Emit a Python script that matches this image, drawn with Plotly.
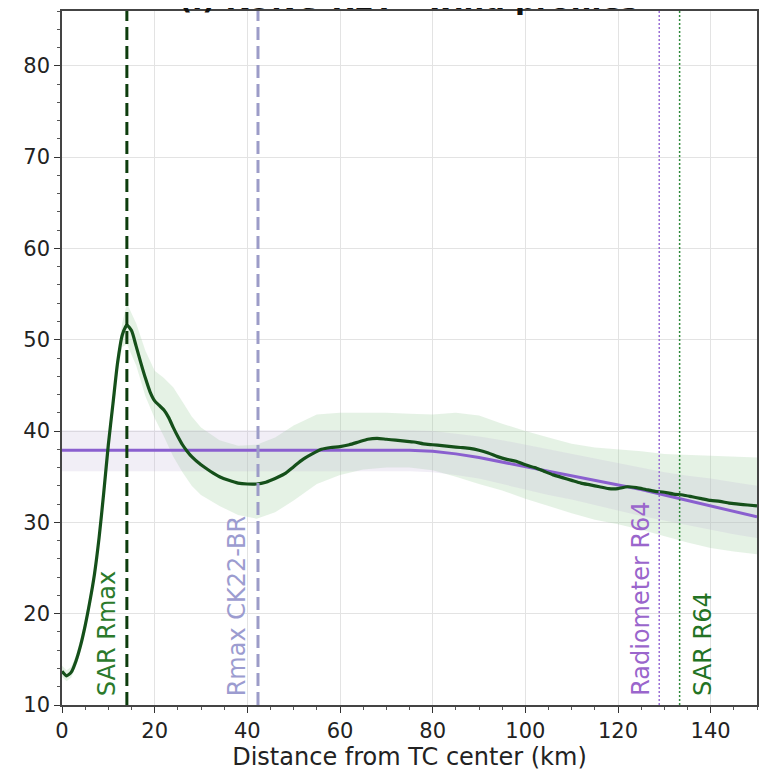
import plotly.graph_objects as go

# ---- data ----
sar_x = [0, 1, 2, 3, 4, 5, 6, 7, 8, 9, 10, 11, 12, 13, 14, 15, 16, 17, 18, 19, 20,
         21, 22, 23, 24, 25, 26, 27, 28, 30, 32, 34, 36, 38, 40, 42, 44, 46, 48, 50,
         52, 54, 56, 58, 60, 62, 64, 66, 68, 70, 72, 74, 76, 78, 80, 82, 84, 86, 88,
         90, 92, 94, 96, 98, 100, 102, 104, 106, 108, 110, 112, 114, 116, 118, 120,
         122, 124, 126, 128, 130, 132, 134, 136, 138, 140, 142, 144, 146, 148, 150]
sar_wind = [13.7, 13.2, 13.6, 14.8, 16.5, 18.7, 21.3, 24.3, 28.3, 33.2, 38.5, 43.0,
            47.5, 50.5, 51.6, 51.0, 49.3, 47.5, 45.8, 44.3, 43.3, 42.8, 42.3, 41.5,
            40.4, 39.4, 38.5, 37.8, 37.2, 36.3, 35.6, 35.0, 34.6, 34.3, 34.2, 34.2,
            34.4, 34.8, 35.3, 36.1, 36.9, 37.5, 38.0, 38.2, 38.3, 38.5, 38.8, 39.1,
            39.2, 39.1, 39.0, 38.9, 38.8, 38.6, 38.5, 38.4, 38.3, 38.2, 38.1, 37.9,
            37.6, 37.2, 36.9, 36.7, 36.3, 36.0, 35.6, 35.2, 34.9, 34.6, 34.3, 34.1,
            33.9, 33.7, 33.7, 33.9, 33.8, 33.6, 33.4, 33.3, 33.1, 33.0, 32.8, 32.6,
            32.4, 32.3, 32.1, 32.0, 31.9, 31.8]

band_x = [0, 1, 2, 3, 4, 5, 6, 7, 8, 9, 10, 11, 12, 13, 14, 16, 18, 20, 22, 24, 26,
          28, 30, 34, 38, 42, 46, 50, 55, 60, 65, 70, 75, 80, 85, 90, 95, 100, 105,
          110, 115, 120, 125, 130, 135, 140, 145, 150]
sar_hi = [14.3, 13.8, 14.2, 15.4, 17.2, 19.4, 22.0, 25.0, 29.0, 34.0, 39.4, 44.0,
          48.5, 51.8, 54.0, 51.8, 48.8, 46.6, 45.8, 44.8, 43.2, 41.6, 40.4, 39.0,
          38.4, 38.5, 39.3, 40.6, 41.8, 42.0, 42.0, 42.0, 41.9, 41.8, 42.0, 41.7,
          40.8, 40.0, 39.3, 38.6, 38.2, 38.0, 37.8, 37.5, 37.4, 37.3, 37.2, 37.1]
sar_lo = [13.1, 12.6, 13.0, 14.2, 15.8, 18.0, 20.6, 23.6, 27.6, 32.4, 37.6, 42.0,
          46.5, 49.2, 49.5, 47.2, 43.8, 41.4, 39.4, 37.2, 35.5, 34.0, 33.0, 31.8,
          30.8, 30.4, 31.1, 32.4, 34.2, 35.2, 35.8, 36.0, 36.0, 35.7, 35.0, 34.2,
          33.5, 32.6, 31.8, 31.0, 30.3, 29.8, 29.2, 28.5, 27.8, 27.2, 26.8, 26.5]

rad_x = [0, 10, 20, 30, 40, 50, 60, 70, 75, 80, 85, 90, 95, 100, 105, 110, 115,
         120, 125, 130, 135, 140, 145, 150]
rad_wind = [37.9, 37.9, 37.9, 37.9, 37.9, 37.9, 37.9, 37.9, 37.9, 37.8, 37.5, 37.1,
            36.6, 36.1, 35.6, 35.1, 34.6, 34.1, 33.6, 33.0, 32.4, 31.8, 31.2, 30.6]
rad_hi = [40.1, 40.1, 40.1, 40.1, 40.1, 40.1, 40.1, 40.1, 40.1, 40.0, 39.7, 39.4,
          39.0, 38.5, 38.0, 37.5, 37.0, 36.5, 36.0, 35.5, 35.1, 34.8, 34.4, 34.0]
rad_lo = [35.6, 35.6, 35.6, 35.6, 35.6, 35.6, 35.6, 35.6, 35.6, 35.5, 35.2, 34.8,
          34.2, 33.6, 33.0, 32.5, 31.9, 31.3, 30.7, 30.2, 29.7, 29.2, 28.7, 28.3]

rmax_sar = 14.0
rmax_ck22 = 42.3
r64_rad = 128.9
r64_sar = 133.3

x_ticks = [0, 20, 40, 60, 80, 100, 120, 140]
y_ticks = [10, 20, 30, 40, 50, 60, 70, 80]

GREEN = "#15501a"
PURPLE = "#8a5fcf"

fig = go.Figure()

# SAR band
fig.add_trace(go.Scatter(x=band_x, y=sar_lo, mode="lines", line=dict(width=0),
                         showlegend=False, hoverinfo="skip"))
fig.add_trace(go.Scatter(x=band_x, y=sar_hi, mode="lines", line=dict(width=0),
                         fill="tonexty", fillcolor="rgba(150,205,150,0.25)",
                         showlegend=False, hoverinfo="skip"))
# Radiometer band
fig.add_trace(go.Scatter(x=rad_x, y=rad_lo, mode="lines", line=dict(width=0),
                         showlegend=False, hoverinfo="skip"))
fig.add_trace(go.Scatter(x=rad_x, y=rad_hi, mode="lines", line=dict(width=0),
                         fill="tonexty", fillcolor="rgba(190,178,215,0.22)",
                         showlegend=False, hoverinfo="skip"))
# Lines
fig.add_trace(go.Scatter(x=rad_x, y=rad_wind, mode="lines",
                         line=dict(color=PURPLE, width=3), showlegend=False))
fig.add_trace(go.Scatter(x=sar_x, y=sar_wind, mode="lines",
                         line=dict(color=GREEN, width=3.2, shape="spline", smoothing=0.6),
                         showlegend=False))

# Vertical markers
vlines = [
    (rmax_sar, "#0d3d0d", 3, "13px,6px"),
    (rmax_ck22, "#9c9cc8", 3, "13px,6px"),
    (r64_rad, "#9b6fd6", 1.5, "2px,2px"),
    (r64_sar, "#2f8a3a", 1.5, "2px,2px"),
]
for xv, col, w, d in vlines:
    fig.add_shape(type="line", xref="x", yref="paper", x0=xv, x1=xv, y0=0, y1=1,
                  line=dict(color=col, width=w, dash=d))

labels = [
    (rmax_sar - 4.4, "SAR Rmax", "#2b7a2b"),
    (rmax_ck22 - 4.6, "Rmax CK22-BR", "#9c9cd0"),
    (r64_rad - 4.0, "Radiometer R64", "#9a66cc"),
    (r64_sar + 5.0, "SAR R64", "#237323"),
]
for xv, txt, col in labels:
    fig.add_annotation(x=xv, y=10.75, xref="x", yref="y", text=txt, textangle=-90,
                       showarrow=False, xanchor="center", yanchor="bottom",
                       font=dict(family="DejaVu Sans", size=24, color=col))

# Title (partially cut off at the top edge, as in the reference)
fig.add_annotation(x=0.499, y=1.0172, xref="paper", yref="paper",
                   text="<b>(i) KONG-REY - wind profiles</b>", showarrow=False,
                   xanchor="center", yanchor="middle",
                   font=dict(family="DejaVu Sans", size=29, color="#111"))

fig.update_layout(
    width=772, height=770,
    margin=dict(l=54, r=23, t=1, b=73),
    paper_bgcolor="white", plot_bgcolor="white",
    font=dict(family="DejaVu Sans", size=21, color="#222"),
)
fig.update_xaxes(range=[0, 150], tickvals=x_ticks, ticks="outside", ticklen=6,
                 tickcolor="#333", showline=True, linecolor="#444", linewidth=1.5,
                 mirror=True, showgrid=True, gridcolor="#e3e3e3", gridwidth=1,
                 zeroline=False, tickfont=dict(size=21),
                 minor=dict(dtick=5, ticks="outside", ticklen=3, tickcolor="#555",
                            showgrid=False),
                 title=dict(text="Distance from TC center (km)", standoff=0,
                            font=dict(size=24, color="#222")))
fig.update_yaxes(range=[10, 86], tickvals=y_ticks, ticks="outside", ticklen=6,
                 tickcolor="#333", showline=True, linecolor="#444", linewidth=1.5,
                 mirror=True, showgrid=True, gridcolor="#e3e3e3", gridwidth=1,
                 zeroline=False, tickfont=dict(size=21),
                 minor=dict(dtick=2, ticks="outside", ticklen=3, tickcolor="#555",
                            showgrid=False))

fig.write_html("out.html")
